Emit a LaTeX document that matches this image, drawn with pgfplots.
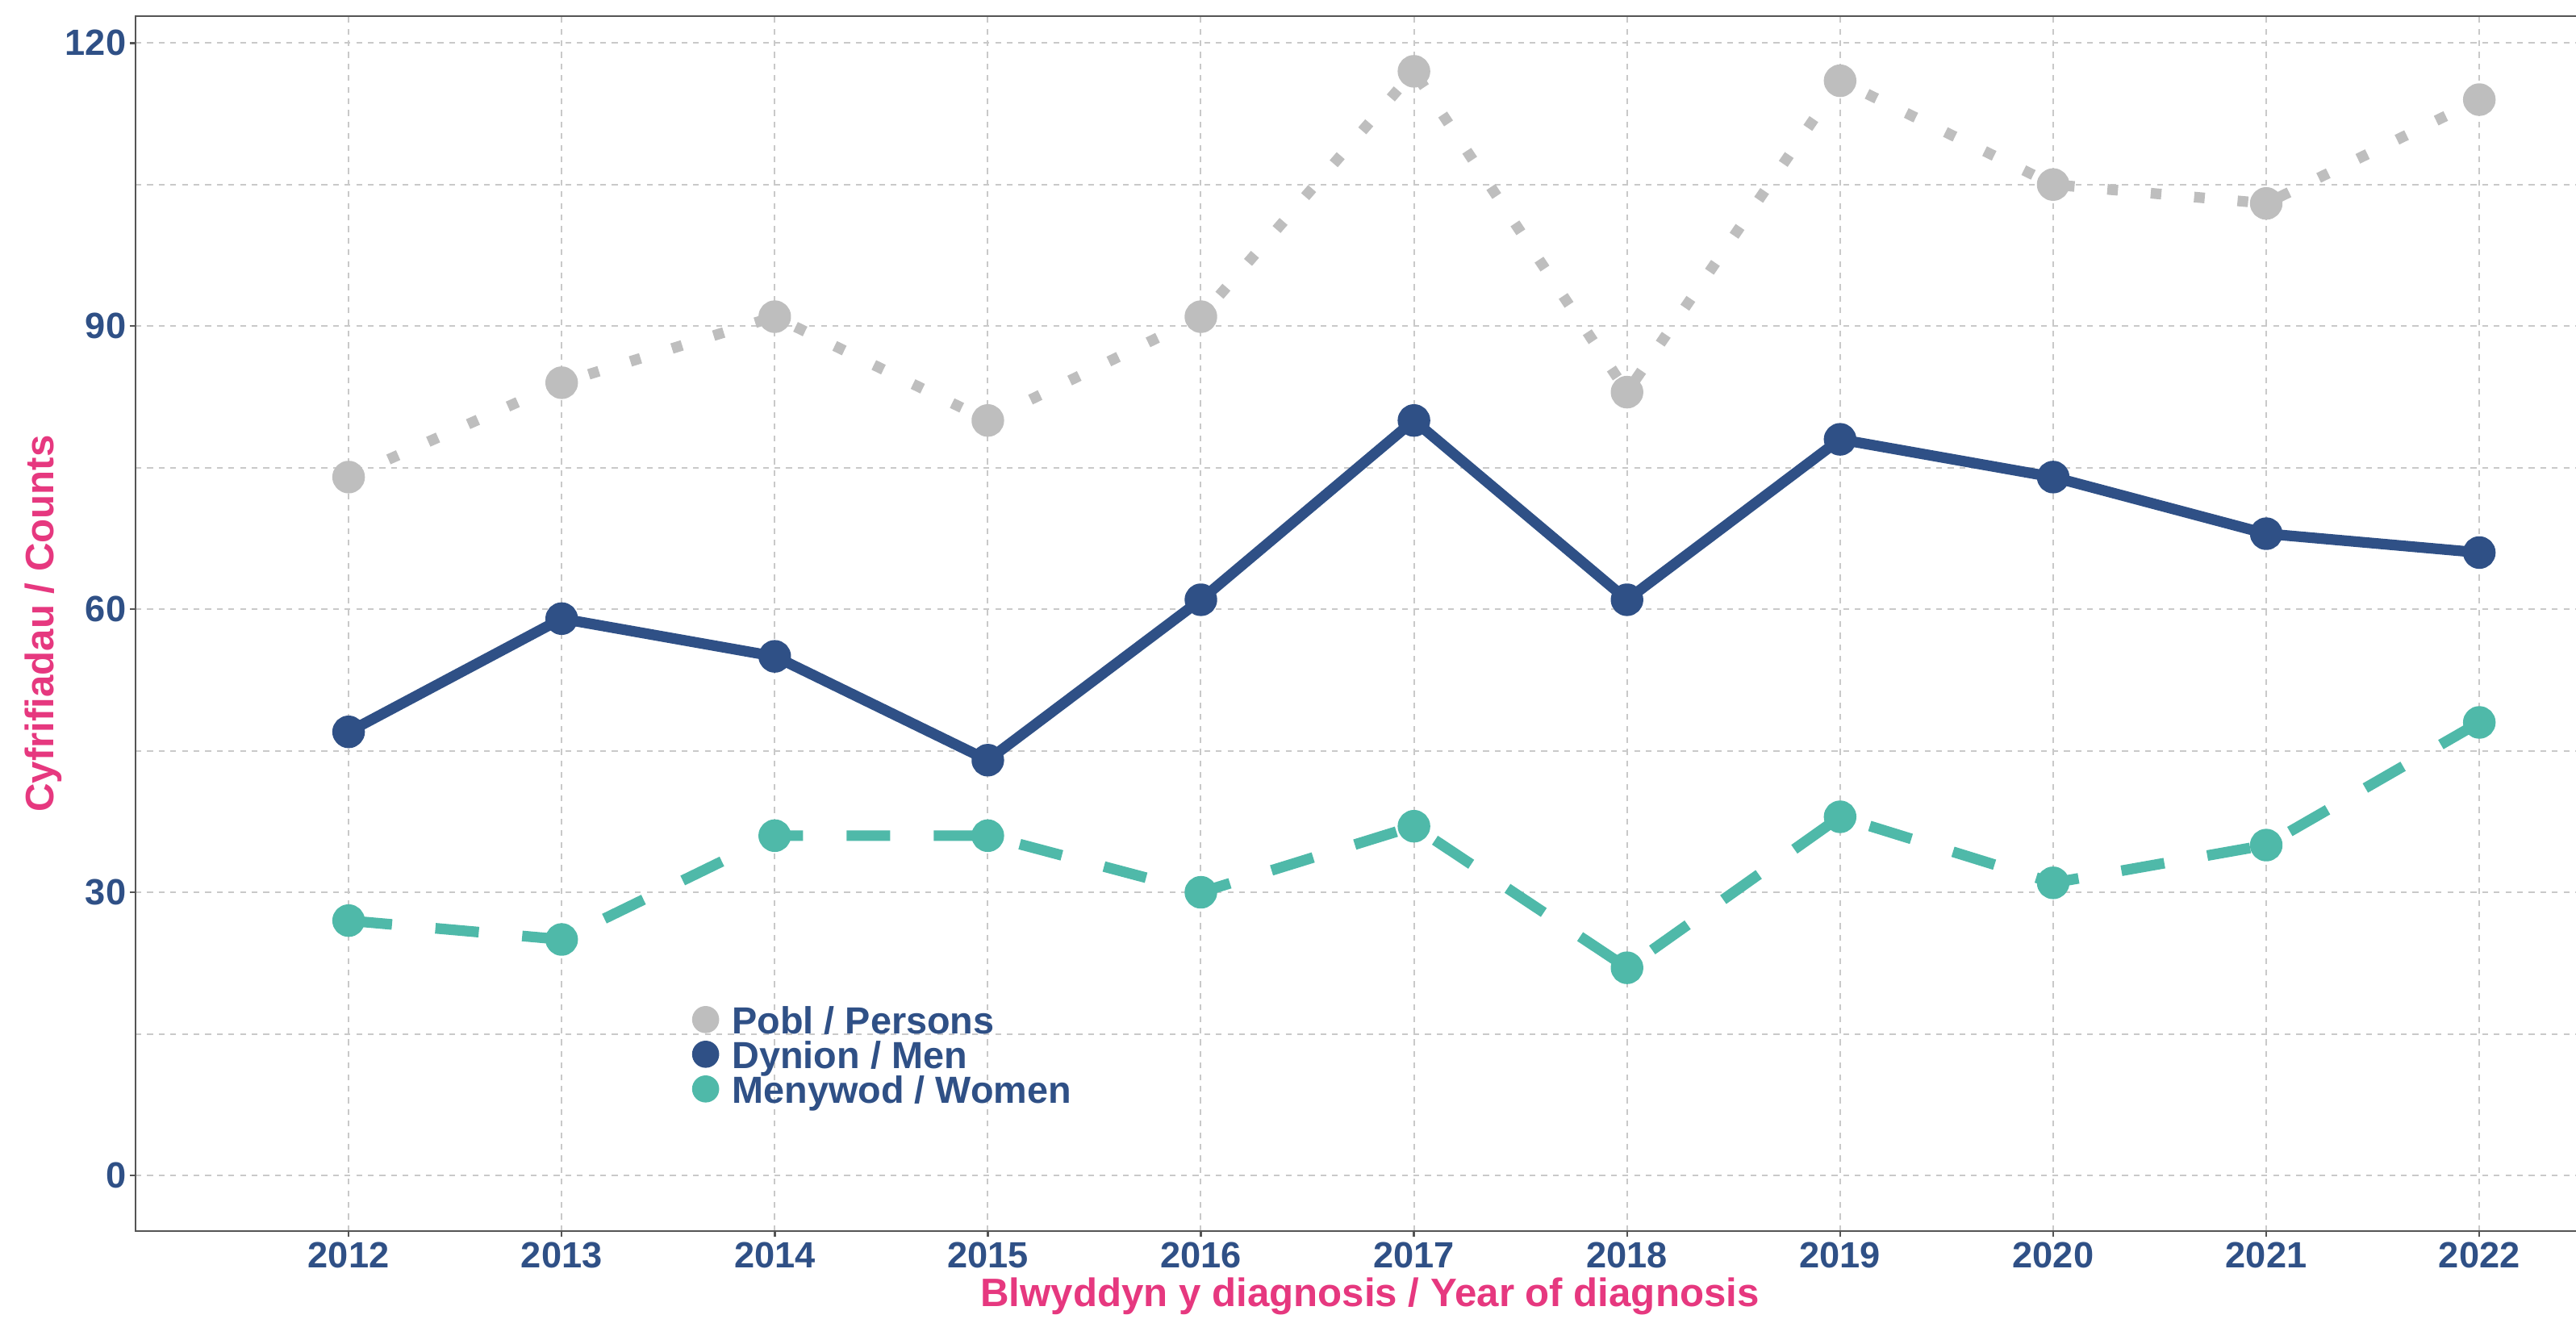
\documentclass[border=0pt]{standalone}
\usepackage{fontspec}
\setmainfont{Liberation Sans}
\usepackage{pgfplots}
\pgfplotsset{compat=1.18}
\definecolor{navy}{HTML}{2F5086}
\definecolor{teal}{HTML}{4FB9A9}
\definecolor{pgrey}{HTML}{BEBEBE}
\definecolor{pink}{HTML}{E6387F}
\definecolor{gridc}{HTML}{C9C9C9}
\definecolor{axisc}{HTML}{555555}
\newcommand{\tlab}{\fontsize{11.3}{13}\selectfont\bfseries}
\newcommand{\alab}{\fontsize{12.3}{14}\selectfont\bfseries}
\newcommand{\llab}{\fontsize{11.7}{13}\selectfont\bfseries}

\begin{document}
\begin{tikzpicture}
\useasboundingbox (-42pt,-27.25pt) rectangle (756.25pt,381.5pt);
\begin{axis}[
 scale only axis, width=765.9pt, height=376.5pt,
 xmin=2011, xmax=2022.6, ymin=-5.9, ymax=122.85,
 xtick={2012,2013,...,2022}, ytick={0,30,60,90,120}, minor ytick={15,45,75,105},
 grid=both,
 major grid style={gridc, line width=0.5pt, dash pattern=on 1.8pt off 1.8pt},
 minor grid style={gridc, line width=0.5pt, dash pattern=on 1.8pt off 1.8pt},
 axis line style={axisc, line width=0.6pt},
 tick style={axisc, line width=0.6pt},
 tick align=outside, major tick length=1.75pt, minor tick length=0pt,
 tick pos=left,
 /pgf/number format/assume math mode=true,
 /pgf/number format/1000 sep={},
 ticklabel style={font=\tlab, text=navy, inner sep=0pt},
 xticklabel style={anchor=north, yshift=-1.5pt},
 yticklabel style={anchor=east, xshift=-1pt},
 xlabel={Blwyddyn y diagnosis / Year of diagnosis},
 xlabel style={at={(axis description cs:0.4994,-0.06242)}, anchor=base, font=\alab, text=pink, inner sep=0pt},
 ylabel={Cyfrifiadau / Counts},
 ylabel style={at={(axis description cs:-0.03297,0.5)}, anchor=base, font=\alab, text=pink, inner sep=0pt},
 legend style={draw=none, fill=none, at={(axis cs:2013.609,18.41)}, anchor=north west,
   font=\llab, text=navy, inner sep=0pt, row sep=0pt,
   nodes={inner sep=0pt, text height=9.7pt, text depth=1.0pt},
   /tikz/every odd column/.append style={column sep=4pt}},
 legend cell align=left,
 legend image code/.code={\path[draw=none, fill=none] (-4.2pt,-5.4pt) rectangle (4.2pt,4.2pt);
   \fill[#1, draw=none, solid] (0pt,0pt) circle (4.2pt);},
]
\addplot[pgrey, line width=3.3pt, line join=round, dash pattern=on 3.3pt off 10.2pt,
  mark=*, mark size=3.4pt, mark options={solid, fill=pgrey, draw=none}]
  coordinates {(2012,74) (2013,84) (2014,91) (2015,80) (2016,91) (2017,117)
  (2018,83) (2019,116) (2020,105) (2021,103) (2022,114)};
\addlegendentry{Pobl / Persons}
\addplot[navy, line width=3.3pt, line join=round,
  mark=*, mark size=3.4pt, mark options={solid, fill=navy, draw=none}]
  coordinates {(2012,47) (2013,59) (2014,55) (2015,44) (2016,61) (2017,80)
  (2018,61) (2019,78) (2020,74) (2021,68) (2022,66)};
\addlegendentry{Dynion / Men}
\addplot[teal, line width=3.3pt, line join=round, dash pattern=on 13.5pt off 13.5pt,
  mark=*, mark size=3.4pt, mark options={solid, fill=teal, draw=none}]
  coordinates {(2012,27) (2013,25) (2014,36) (2015,36) (2016,30) (2017,37)
  (2018,22) (2019,38) (2020,31) (2021,35) (2022,48)};
\addlegendentry{Menywod / Women}
\end{axis}
\end{tikzpicture}
\end{document}
